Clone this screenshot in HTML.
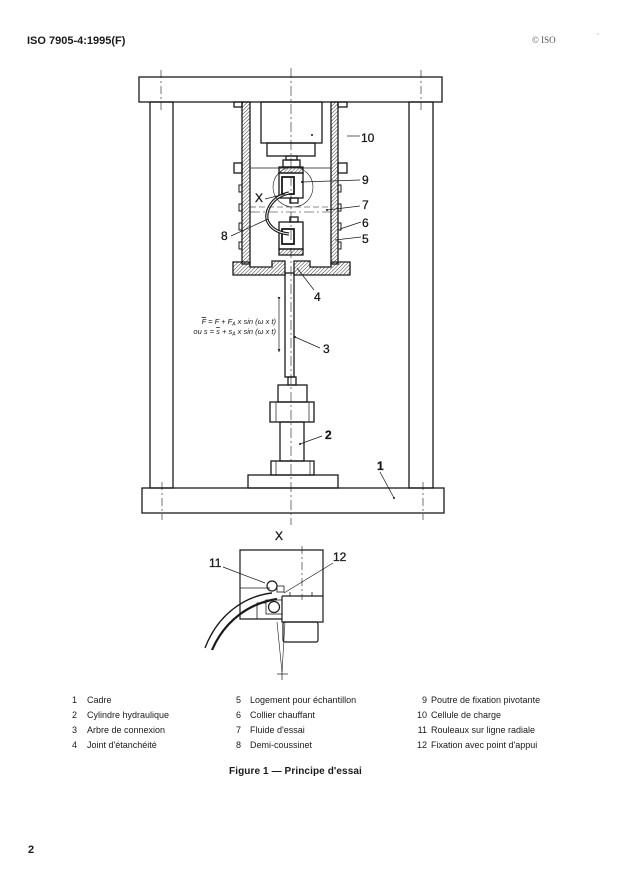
<!DOCTYPE html>
<html><head><meta charset="utf-8"><style>
html,body{margin:0;padding:0;background:#fff;}
svg{display:block;}
text{font-family:"Liberation Sans",Arial,sans-serif;fill:#1a1a1a;}
</style></head><body>
<svg width="627" height="881" viewBox="0 0 627 881" xmlns="http://www.w3.org/2000/svg">
<defs>
<pattern id="h" patternUnits="userSpaceOnUse" width="2.6" height="2.6" patternTransform="rotate(45)">
<line x1="0" y1="0" x2="0" y2="2.6" stroke="#222" stroke-width="0.9"/>
</pattern>
<marker id="ar" viewBox="0 0 10 10" refX="9" refY="5" markerWidth="5" markerHeight="6" orient="auto">
<path d="M0,1 L10,5 L0,9 z" fill="#222"/>
</marker>
</defs>
<rect width="627" height="881" fill="#fff"/>

<!-- header -->
<text x="27" y="44" font-size="11" font-weight="bold">ISO 7905-4:1995(F)</text>
<text x="532" y="43" font-size="9" style="font-family:'Liberation Serif',serif;fill:#555">© ISO</text>
<circle cx="598" cy="34" r="0.6" fill="#999"/>

<g fill="none" stroke="#1a1a1a" stroke-width="1.3">
<!-- center lines -->
<line x1="291" y1="68" x2="291" y2="525" stroke-width="0.6" stroke-dasharray="10,3,2,3"/>
<line x1="161" y1="70" x2="161" y2="112" stroke-width="0.6" stroke-dasharray="8,3,2,3"/>
<line x1="421" y1="70" x2="421" y2="112" stroke-width="0.6" stroke-dasharray="8,3,2,3"/>
<line x1="162" y1="482" x2="162" y2="520" stroke-width="0.6" stroke-dasharray="8,3,2,3"/>
<line x1="423" y1="482" x2="423" y2="520" stroke-width="0.6" stroke-dasharray="8,3,2,3"/>

<!-- frame -->
<rect x="139" y="77" width="303" height="25" fill="none"/>
<rect x="150" y="102" width="23" height="386"/>
<rect x="409" y="102" width="24" height="386"/>
<rect x="142" y="488" width="302" height="25"/>
<rect x="248" y="475" width="90" height="13"/>
<rect x="271" y="461" width="43" height="14"/>
<line x1="276" y1="461" x2="276" y2="475" stroke-width="0.7"/>
<line x1="310" y1="461" x2="310" y2="475" stroke-width="0.7"/>
<rect x="280" y="422" width="24" height="39"/>
<rect x="270" y="402" width="44" height="20"/>
<line x1="276" y1="402" x2="276" y2="422" stroke-width="0.7"/>
<line x1="309" y1="402" x2="309" y2="422" stroke-width="0.7"/>
<rect x="278" y="385" width="29" height="17"/>
<rect x="288" y="377" width="8" height="8"/>
<rect x="285" y="273" width="9" height="104"/>

<!-- housing walls -->
<rect x="242" y="102" width="8" height="162" fill="url(#h)"/>
<rect x="331" y="102" width="7" height="162" fill="url(#h)"/>
<rect x="234" y="102" width="8" height="5"/>
<rect x="338" y="102" width="9" height="5"/>
<rect x="234" y="163" width="8" height="10"/>
<rect x="338" y="163" width="9" height="10"/>
<line x1="250" y1="168" x2="331" y2="168" stroke-width="0.8"/>
<!-- bottom flange -->
<polygon points="233,262 250,262 250,267 272,267 272,261 285,261 285,275 233,275" fill="url(#h)"/>
<polygon points="294,261 310,261 310,267 331,267 331,262 350,262 350,275 294,275" fill="url(#h)"/>
<!-- heating collar -->
<g stroke-width="1">
<rect x="239" y="185" width="3" height="7"/><rect x="239" y="204" width="3" height="7"/>
<rect x="239" y="223" width="3" height="7"/><rect x="239" y="242" width="3" height="7"/>
<rect x="338" y="185" width="3" height="7"/><rect x="338" y="204" width="3" height="7"/>
<rect x="338" y="223" width="3" height="7"/><rect x="338" y="242" width="3" height="7"/>
</g>

<!-- load cell -->
<rect x="261" y="102" width="61" height="41"/>
<rect x="267" y="143" width="48" height="13"/>
<rect x="286" y="156" width="11" height="4"/>
<rect x="283" y="160" width="17" height="7"/>

<!-- top clamp -->
<rect x="279" y="167" width="24" height="6" fill="url(#h)"/>
<rect x="279" y="173" width="24" height="25"/>
<rect x="282" y="177" width="12" height="17" stroke-width="1.8"/>
<rect x="290" y="198" width="8" height="5"/>
<!-- bottom clamp -->
<rect x="290" y="217" width="8" height="5"/>
<rect x="279" y="222" width="24" height="27"/>
<rect x="282" y="229" width="12" height="15" stroke-width="1.8"/>
<rect x="279" y="249" width="24" height="6" fill="url(#h)"/>
<!-- cable -->
<path d="M289,193 C270,197 264,214 268,222 C272,230 280,233 289,234" stroke-width="3.2"/>
<path d="M289,193 C270,197 264,214 268,222 C272,230 280,233 289,234" stroke="#fff" stroke-width="0.9"/>
<!-- detail circle -->
<circle cx="293" cy="187" r="20" stroke-width="0.6"/>
<!-- fluid lines -->
<line x1="250" y1="207" x2="331" y2="207" stroke-width="0.6" stroke-dasharray="6,3"/>
<line x1="250" y1="212" x2="331" y2="212" stroke-width="0.6" stroke-dasharray="10,3,2,3"/>

<!-- leaders -->
<g stroke-width="0.7">
<line x1="347" y1="136" x2="360" y2="136"/>
<line x1="302" y1="182" x2="360" y2="180"/>
<line x1="265" y1="199" x2="285" y2="194"/>
<line x1="327" y1="210" x2="360" y2="206"/>
<line x1="340" y1="229" x2="361" y2="222"/>
<line x1="335" y1="240" x2="361" y2="237"/>
<line x1="231" y1="236" x2="268" y2="219"/>
<line x1="297" y1="268" x2="314" y2="290"/>
<line x1="295" y1="337" x2="320" y2="348"/>
<line x1="300" y1="444" x2="322" y2="436"/>
<line x1="380" y1="472" x2="394" y2="498"/>
</g>
<!-- double arrow -->
<line x1="279" y1="300" x2="279" y2="352" stroke-width="0.7" marker-start="url(#ar)" marker-end="url(#ar)"/>
</g>
<g fill="#1a1a1a">
<circle cx="312" cy="135" r="1"/><circle cx="302" cy="182" r="1"/><circle cx="327" cy="210" r="1"/>
<circle cx="295" cy="337" r="1"/><circle cx="300" cy="444" r="1"/><circle cx="394" cy="498" r="1"/>
</g>

<!-- labels -->
<g font-size="12" stroke="#1a1a1a" stroke-width="0.3">
<text x="361" y="142">10</text>
<text x="362" y="184">9</text>
<text x="362" y="209">7</text>
<text x="362" y="227">6</text>
<text x="362" y="243">5</text>
<text x="221" y="240">8</text>
<text x="255" y="202">X</text>
<text x="314" y="301">4</text>
<text x="323" y="353">3</text>
<text x="325" y="439" font-weight="bold">2</text>
<text x="377" y="470" font-weight="bold">1</text>
</g>
<g font-size="7.5" font-style="italic" text-anchor="end">
<text x="276" y="324"><tspan text-decoration="overline">F</tspan> = F + F<tspan font-size="5" dy="1.5">A</tspan><tspan dy="-1.5"> x sin (ω x t)</tspan></text>
<text x="276" y="334">ou s = <tspan text-decoration="overline">s</tspan> + s<tspan font-size="5" dy="1.5">A</tspan><tspan dy="-1.5"> x sin (ω x t)</tspan></text>
</g>

<!-- Detail X -->
<text x="275" y="540" font-size="12" stroke="#1a1a1a" stroke-width="0.3">X</text>
<g fill="none" stroke="#1a1a1a" stroke-width="1.2">
<polyline points="282,619 240,619 240,550 323,550 323,622 282,622 282,596"/>
<line x1="240" y1="588" x2="270" y2="588" stroke-width="0.8"/>
<line x1="282" y1="596" x2="323" y2="596"/>
<line x1="290" y1="592" x2="290" y2="596" stroke-width="0.8"/>
<line x1="312" y1="592" x2="312" y2="596" stroke-width="0.8"/>
<polyline points="257,619 257,603 266,603" stroke-width="0.8"/>
<rect x="283" y="622" width="35" height="20" rx="2"/>
<line x1="302" y1="546" x2="302" y2="600" stroke-width="0.6" stroke-dasharray="8,3,2,3"/>
<circle cx="272" cy="586" r="5"/>
<rect x="277" y="586" width="7" height="6" stroke-width="0.8"/>
<rect x="266" y="600" width="16" height="14" stroke-width="0.8"/>
<circle cx="274" cy="607" r="5.5"/>
<path d="M272,593 C245,596 218,614 205,648" stroke-width="1.4"/>
<path d="M277,599 C250,603 225,620 212,650" stroke-width="2.2"/>
<line x1="277" y1="622" x2="282" y2="672" stroke-width="0.6"/>
<line x1="285" y1="622" x2="282" y2="672" stroke-width="0.6"/>
<line x1="277" y1="674" x2="288" y2="674" stroke-width="0.7"/>
<line x1="282" y1="668" x2="282" y2="680" stroke-width="0.7"/>
<line x1="223" y1="567" x2="265" y2="583" stroke-width="0.7"/>
<line x1="333" y1="563" x2="284" y2="593" stroke-width="0.7"/>
</g>
<text x="209" y="567" font-size="12" stroke="#1a1a1a" stroke-width="0.3">11</text>
<text x="333" y="561" font-size="12" stroke="#1a1a1a" stroke-width="0.3">12</text>

<!-- legend -->
<g font-size="9" style="fill:#333">
<g text-anchor="end">
<text x="77" y="703">1</text><text x="77" y="718">2</text><text x="77" y="733">3</text><text x="77" y="748">4</text>
<text x="241" y="703">5</text><text x="241" y="718">6</text><text x="241" y="733">7</text><text x="241" y="748">8</text>
<text x="427" y="703">9</text><text x="427" y="718">10</text><text x="427" y="733">11</text><text x="427" y="748">12</text>
</g>
<text x="87" y="703">Cadre</text>
<text x="87" y="718">Cylindre hydraulique</text>
<text x="87" y="733">Arbre de connexion</text>
<text x="87" y="748">Joint d'étanchéité</text>
<text x="250" y="703">Logement pour échantillon</text>
<text x="250" y="718">Collier chauffant</text>
<text x="250" y="733">Fluide d'essai</text>
<text x="250" y="748">Demi-coussinet</text>
<text x="431" y="703">Poutre de fixation pivotante</text>
<text x="431" y="718">Cellule de charge</text>
<text x="431" y="733">Rouleaux sur ligne radiale</text>
<text x="431" y="748">Fixation avec point d'appui</text>
</g>
<text x="229" y="774" font-size="10" font-weight="bold" letter-spacing="0.1">Figure 1 — Principe d'essai</text>

<text x="28" y="853" font-size="11" font-weight="bold">2</text>
</svg>
</body></html>
